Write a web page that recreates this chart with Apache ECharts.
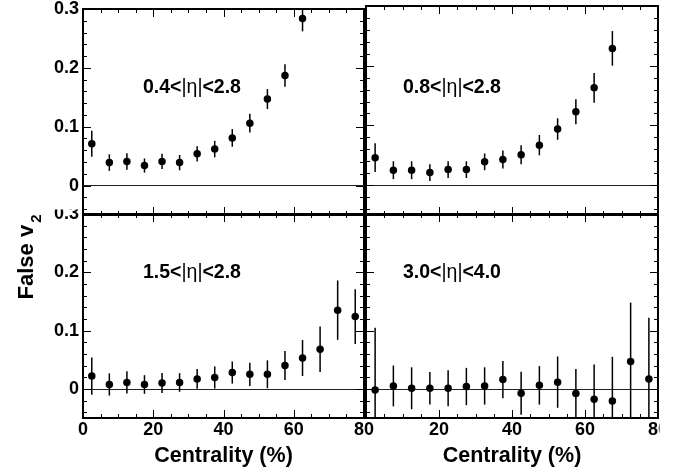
<!DOCTYPE html>
<html><head><meta charset="utf-8">
<script src="https://cdn.jsdelivr.net/npm/echarts@6/dist/echarts.min.js"></script>
<style>html,body{margin:0;padding:0;background:#fff}#c{width:688px;height:469px}</style>
</head><body><div id="c"></div>
<script>
// ---- data ----
const centrality = [2.5, 7.5, 12.5, 17.5, 22.5, 27.5, 32.5, 37.5, 42.5, 47.5, 52.5, 57.5, 62.5, 67.5, 72.5, 77.5];

const v2_eta04 = [0.071, 0.039, 0.041, 0.034, 0.041, 0.039, 0.054, 0.062, 0.081, 0.106, 0.147, 0.187, 0.284];
const err_eta04 = [0.022, 0.014, 0.014, 0.012, 0.013, 0.013, 0.013, 0.014, 0.015, 0.016, 0.017, 0.019, 0.022];

const v2_eta08 = [0.046, 0.025, 0.025, 0.021, 0.026, 0.026, 0.039, 0.043, 0.051, 0.067, 0.094, 0.123, 0.163, 0.229];
const err_eta08 = [0.024, 0.015, 0.015, 0.014, 0.014, 0.014, 0.014, 0.015, 0.016, 0.017, 0.018, 0.021, 0.025, 0.029];

const v2_eta15 = [0.022, 0.0075, 0.011, 0.0075, 0.010, 0.011, 0.017, 0.0195, 0.028, 0.025, 0.025, 0.040, 0.053, 0.068, 0.135, 0.124];
const err_eta15 = [0.032, 0.019, 0.019, 0.016, 0.017, 0.016, 0.017, 0.019, 0.019, 0.020, 0.024, 0.025, 0.031, 0.039, 0.051, 0.047];

const v2_eta30 = [-0.002, 0.005, 0.001, 0.001, 0.001, 0.004, 0.005, 0.016, -0.0075, 0.006, 0.0115, -0.008, -0.018, -0.021, 0.047, 0.017];
const err_eta30 = [0.107, 0.035, 0.036, 0.028, 0.031, 0.032, 0.032, 0.032, 0.037, 0.033, 0.044, 0.042, 0.060, 0.076, 0.101, 0.105];

const panelLabels = ['0.4<|η|<2.8', '0.8<|η|<2.8', '1.5<|η|<2.8', '3.0<|η|<4.0'];
const xMin = 0, xMax = 80, xStep = 20;
const yMin = -0.05, yMax = 0.3, yStep = 0.1;
const xMajorTicks = [0, 20, 40, 60, 80];
const xMinorTicks = [5, 10, 15, 25, 30, 35, 45, 50, 55, 65, 70, 75];
const yMajorTicks = [0, 0.1, 0.2, 0.3];
const yMinorTicks = [-0.04, -0.02, 0.02, 0.04, 0.06, 0.08, 0.12, 0.14, 0.16, 0.18, 0.22, 0.24, 0.26, 0.28];
const xTitle = 'Centrality (%)';
const yTitle = 'False v';
const yTitleSub = '2';

// ---- layout ----
const FONT = '"Liberation Sans", Arial, Helvetica, sans-serif';
const gridBoxes = [
  {left: 83, top: 6, width: 281, height: 209},
  {left: 366, top: 6, width: 292, height: 209},
  {left: 83, top: 214, width: 281, height: 204},
  {left: 366, top: 214, width: 292, height: 204}
];
const panelValues = [v2_eta04, v2_eta08, v2_eta15, v2_eta30];
const panelErrors = [err_eta04, err_eta08, err_eta15, err_eta30];
const labelPos = [[143, 88], [403, 88], [143, 273], [403, 273]];
const MAJOR = 8, MINOR = 4;

const grid = gridBoxes.map(g => Object.assign({show: true, borderColor: '#000', borderWidth: 2, backgroundColor: 'transparent'}, g));
const xAxis = [], yAxis = [], series = [];

gridBoxes.forEach((g, i) => {
  const isBottom = i >= 2, isLeft = i % 2 === 0;
  xAxis.push({
    gridIndex: i, type: 'value', min: xMin, max: xMax, interval: xStep,
    axisLine: {show: false, onZero: false}, axisTick: {show: false}, minorTick: {show: false},
    splitLine: {show: false},
    axisLabel: {
      show: isBottom, margin: 3, color: '#000', fontFamily: FONT, fontWeight: 'bold', fontSize: 18,
      formatter: v => (!isLeft && v === 0) ? '' : String(v)
    },
    name: isBottom ? xTitle : '', nameLocation: 'middle', nameGap: 27,
    nameTextStyle: {color: '#000', fontFamily: FONT, fontWeight: 'bold', fontSize: 21.5}
  });
  yAxis.push({
    gridIndex: i, type: 'value', min: yMin, max: yMax, minInterval: yStep, maxInterval: yStep,
    axisLine: {show: false, onZero: false}, axisTick: {show: false}, splitLine: {show: false},
    axisLabel: {
      show: isLeft, margin: 4, showMinLabel: true, showMaxLabel: true,
      color: '#000', fontFamily: FONT, fontWeight: 'bold', fontSize: 18,
      formatter: v => v < -1e-9 ? '' : (Math.abs(v) < 1e-9 ? '0' : (+v).toFixed(1))
    }
  });
  const vals = panelValues[i], errs = panelErrors[i];
  const pts = vals.map((v, k) => [centrality[k], v]);
  const bars = vals.map((v, k) => [centrality[k], v - errs[k], v + errs[k]]);
  series.push({
    type: 'custom', xAxisIndex: i, yAxisIndex: i, clip: true, z: 3,
    renderItem: (params, api) => {
      const a = api.coord([api.value(0), api.value(1)]);
      const b = api.coord([api.value(0), api.value(2)]);
      return {type: 'line', shape: {x1: a[0], y1: a[1], x2: b[0], y2: b[1]}, style: {stroke: '#000', lineWidth: 1.5}};
    },
    data: bars
  });
  series.push({
    type: 'scatter', xAxisIndex: i, yAxisIndex: i, symbol: 'circle', symbolSize: 7.5, z: 4,
    itemStyle: {color: '#000', opacity: 1}, data: pts, clip: true,
    markLine: {
      silent: true, symbol: 'none', label: {show: false}, z: 2,
      lineStyle: {color: '#222', width: 1, type: 'solid', opacity: 1},
      data: [{yAxis: 0}]
    }
  });
});

const graphic = [];
panelLabels.forEach((t, i) => {
  graphic.push({
    type: 'text', x: labelPos[i][0], y: labelPos[i][1], z: 50,
    style: {
      text: t.replace('|η|', '{t||η|}'), align: 'left', verticalAlign: 'middle',
      fill: '#000', font: 'bold 19.5px ' + FONT,
      rich: {t: {fontFamily: FONT, fontWeight: 'normal', fontSize: 19.5, fill: '#000'}}
    }
  });
});
graphic.push({
  type: 'text', x: 27, y: 257, rotation: Math.PI / 2, z: 50,
  style: {
    text: '{m|' + yTitle + '}{s|' + yTitleSub + '}', align: 'center', verticalAlign: 'middle',
    fill: '#000', font: 'bold 22px ' + FONT,
    rich: {
      m: {fontFamily: FONT, fontWeight: 'bold', fontSize: 22, fill: '#000', verticalAlign: 'bottom'},
      s: {fontFamily: FONT, fontWeight: 'bold', fontSize: 15, fill: '#000', verticalAlign: 'bottom', padding: [0, 0, -6, 2]}
    }
  }
});
// pad clipping of labels (as in the original canvas)
graphic.push({type: 'rect', shape: {x: 40, y: 194, width: 41, height: 15.5}, style: {fill: '#fff'}, z: 100});
graphic.push({type: 'rect', shape: {x: 659.5, y: 419, width: 30, height: 50}, style: {fill: '#fff'}, z: 100});

const chart = echarts.init(document.getElementById('c'), null, {renderer: 'canvas'});
chart.setOption({
  animation: false,
  backgroundColor: '#fff',
  grid, xAxis, yAxis, series, graphic
});

// ROOT-style tick marks (inside, on all four sides), placed through the axes' own scales
function seg(x1, y1, x2, y2) {
  return {type: 'line', z: 60, silent: true,
    shape: {x1, y1, x2, y2}, style: {stroke: '#000', lineWidth: 1}};
}
const ticks = [];
gridBoxes.forEach((g, i) => {
  const P = (x, y) => chart.convertToPixel({gridIndex: i}, [x, y]);
  const addX = (list, len) => list.forEach(v => {
    const b = P(v, yMin), t = P(v, yMax);
    const x = Math.round(b[0]) + 0.5;
    ticks.push(seg(x, b[1], x, b[1] - len));
    ticks.push(seg(x, t[1], x, t[1] + len));
  });
  const addY = (list, len) => list.forEach(v => {
    const l = P(xMin, v), r = P(xMax, v);
    const y = Math.round(l[1]) + 0.5;
    ticks.push(seg(l[0], y, l[0] + len, y));
    ticks.push(seg(r[0], y, r[0] - len, y));
  });
  addX(xMajorTicks, MAJOR); addX(xMinorTicks, MINOR);
  addY(yMajorTicks, MAJOR); addY(yMinorTicks, MINOR);
});
chart.setOption({graphic: graphic.concat(ticks)});
</script>
</body></html>
